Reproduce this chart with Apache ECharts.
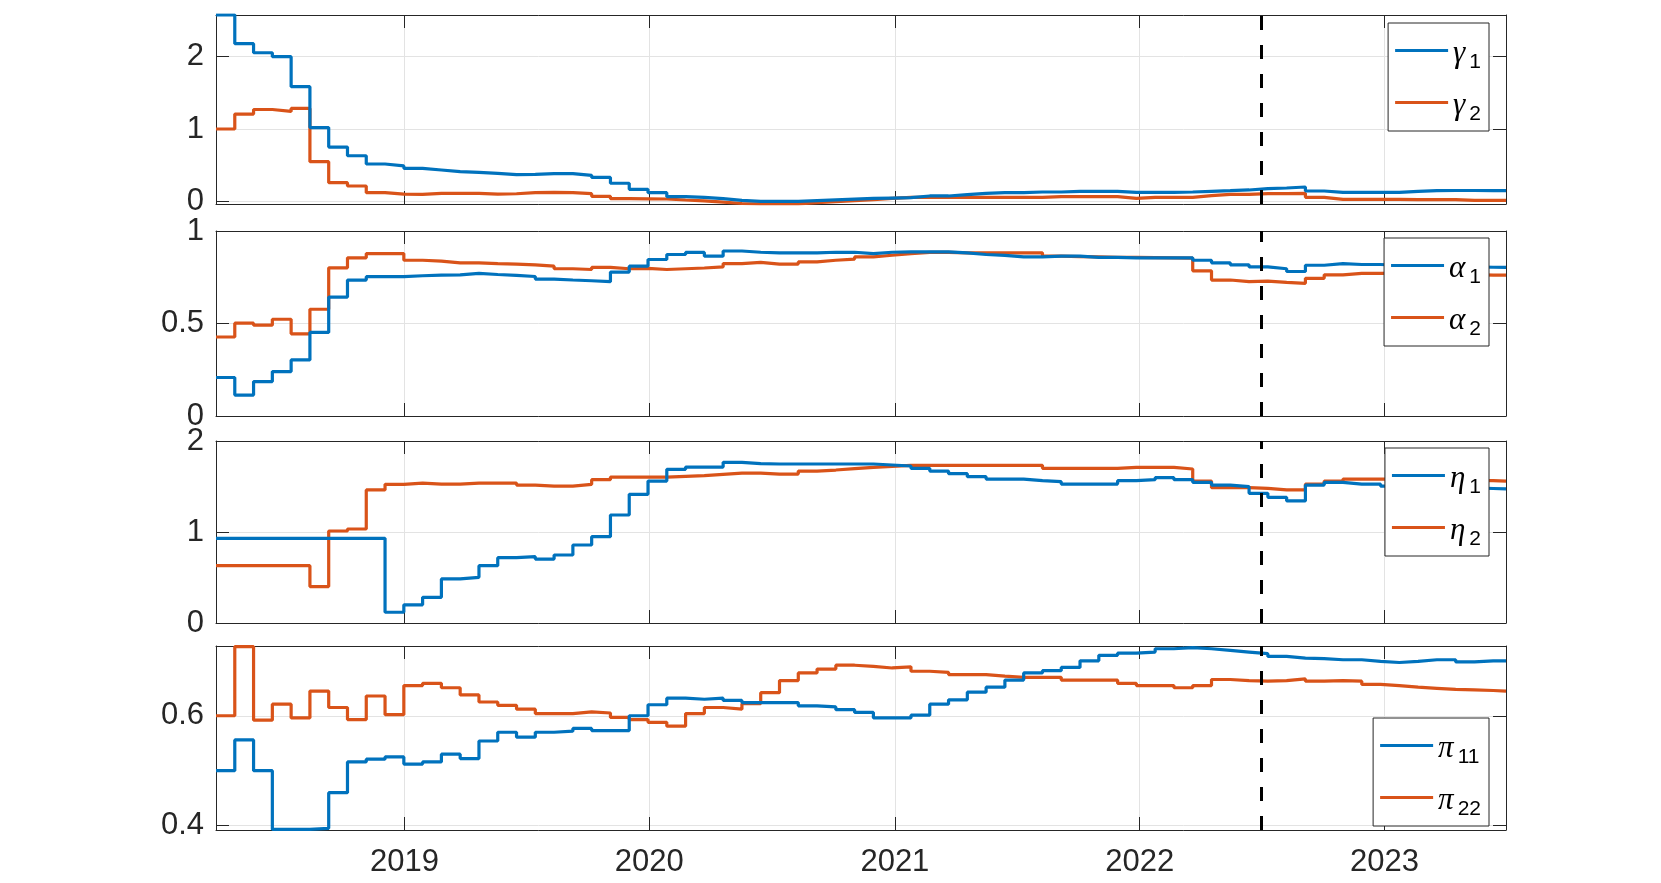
<!DOCTYPE html>
<html>
<head>
<meta charset="utf-8">
<script src="https://cdn.jsdelivr.net/npm/echarts@6/dist/echarts.min.js"></script>
<style>
html,body{margin:0;padding:0;background:#fff;}
#chart{width:1661px;height:883px;}
</style>
</head>
<body>
<div id="chart"></div>
<script>
// ---- time grid (4-weekly observations) ----
const startDate = [2018, 2, 26];   // 2018-03-26
const stepDays = 28;
const endDate = [2023, 6, 1];      // 2023-07-01
const breakDate = [2022, 6, 1];    // 2022-07-01 (dashed line)
const yearTicks = ['2019', '2020', '2021', '2022', '2023'];

// ---- series values (one per 4-week step) ----
const gamma1 = [2.58,2.18,2.055,2.0,1.585,1.02,0.75,0.63,0.516,0.49,0.456,0.433,0.41,0.40,0.387,0.37,0.373,0.382,0.382,0.36,
  0.33,0.25,0.166,0.12,0.065,0.055,0.037,0.014,0.0,0.0,0.0,0.01,0.02,0.03,0.04,0.045,0.05,0.074,0.074,0.092,
  0.11,0.12,0.12,0.129,0.129,0.138,0.138,0.138,0.125,0.125,0.125,0.129,0.138,0.147,0.157,0.175,0.184,0.198,0.143,0.124,
  0.124,0.124,0.124,0.138,0.147,0.15,0.15,0.147,0.147];
const gamma2 = [1.0,1.207,1.27,1.244,1.285,0.548,0.258,0.212,0.12,0.10,0.097,0.11,0.11,0.11,0.10,0.105,0.12,0.124,0.12,0.106,
  0.069,0.037,0.035,0.032,0.018,0.005,-0.01,-0.03,-0.035,-0.035,-0.035,-0.018,-0.005,0.009,0.023,0.041,0.055,0.055,0.055,0.055,
  0.055,0.055,0.055,0.055,0.065,0.065,0.065,0.065,0.04,0.055,0.055,0.055,0.078,0.097,0.097,0.106,0.106,0.11,0.055,0.028,
  0.028,0.028,0.028,0.023,0.023,0.023,0.014,0.014,0.014];
const alpha1 = [0.208,0.113,0.186,0.24,0.303,0.452,0.643,0.735,0.753,0.753,0.758,0.762,0.763,0.771,0.765,0.76,0.754,0.74,0.735,0.731,
  0.726,0.778,0.81,0.846,0.873,0.884,0.864,0.892,0.885,0.882,0.882,0.882,0.885,0.885,0.878,0.885,0.887,0.887,0.887,0.882,
  0.873,0.868,0.86,0.86,0.864,0.864,0.857,0.857,0.855,0.855,0.855,0.855,0.842,0.828,0.817,0.806,0.796,0.781,0.815,0.824,
  0.819,0.819,0.815,0.812,0.81,0.808,0.806,0.804,0.803];
const alpha2 = [0.427,0.502,0.491,0.523,0.444,0.577,0.801,0.855,0.878,0.878,0.842,0.837,0.828,0.828,0.824,0.821,0.817,0.81,0.796,0.792,
  0.803,0.796,0.798,0.792,0.796,0.8,0.806,0.824,0.83,0.821,0.821,0.833,0.842,0.848,0.86,0.869,0.878,0.884,0.884,0.882,
  0.882,0.882,0.882,0.882,0.864,0.862,0.86,0.858,0.857,0.856,0.855,0.853,0.785,0.735,0.726,0.729,0.722,0.717,0.744,0.763,
  0.771,0.771,0.772,0.772,0.768,0.766,0.764,0.762,0.762];
const eta1 = [0.93,0.93,0.93,0.93,0.93,0.93,0.93,0.93,0.93,0.118,0.2,0.282,0.484,0.502,0.63,0.718,0.729,0.703,0.747,0.857,
  0.949,1.187,1.414,1.56,1.689,1.714,1.714,1.766,1.751,1.747,1.747,1.747,1.747,1.747,1.747,1.736,1.725,1.70,1.67,1.641,
  1.608,1.582,1.582,1.564,1.553,1.527,1.527,1.527,1.564,1.575,1.597,1.575,1.546,1.516,1.498,1.425,1.381,1.341,1.516,1.546,
  1.527,1.527,1.505,1.5,1.495,1.49,1.485,1.478,1.473];
const eta2 = [0.63,0.63,0.63,0.63,0.63,0.4,1.011,1.033,1.462,1.524,1.538,1.527,1.527,1.538,1.538,1.538,1.516,1.505,1.505,1.524,
  1.575,1.604,1.604,1.604,1.612,1.619,1.634,1.648,1.648,1.637,1.637,1.67,1.681,1.696,1.711,1.722,1.733,1.733,1.733,1.733,
  1.733,1.733,1.733,1.733,1.7,1.7,1.7,1.7,1.711,1.711,1.711,1.692,1.56,1.487,1.487,1.48,1.462,1.462,1.527,1.56,
  1.582,1.582,1.582,1.58,1.575,1.572,1.568,1.565,1.56];
const pi11 = [0.5,0.556,0.50,0.393,0.393,0.395,0.46,0.516,0.521,0.525,0.512,0.516,0.53,0.522,0.554,0.57,0.561,0.57,0.572,0.577,
  0.573,0.573,0.6,0.62,0.632,0.63,0.632,0.628,0.624,0.624,0.624,0.618,0.616,0.611,0.606,0.596,0.596,0.601,0.621,0.629,
  0.643,0.652,0.665,0.678,0.682,0.688,0.7,0.71,0.714,0.716,0.722,0.724,0.722,0.719,0.716,0.713,0.708,0.705,0.704,0.702,
  0.702,0.699,0.697,0.699,0.702,0.702,0.698,0.7,0.7];
const pi22 = [0.6,0.726,0.592,0.621,0.596,0.645,0.615,0.593,0.636,0.602,0.655,0.659,0.651,0.638,0.625,0.619,0.612,0.604,0.604,0.607,
  0.605,0.597,0.593,0.588,0.581,0.604,0.615,0.612,0.622,0.642,0.664,0.678,0.685,0.692,0.69,0.687,0.689,0.681,0.679,0.675,
  0.675,0.672,0.67,0.67,0.67,0.665,0.665,0.665,0.659,0.655,0.655,0.651,0.655,0.666,0.664,0.663,0.664,0.667,0.663,0.664,
  0.663,0.657,0.655,0.652,0.65,0.648,0.647,0.646,0.645];

// ---- panel definitions ----
const panels = [
  {names:['γ1','γ2'], data:[gamma1,gamma2], ymin:-0.037, ymax:2.577, step:1,   top:15,  height:189, legendTop:23},
  {names:['α1','α2'], data:[alpha1,alpha2], ymin:0,      ymax:1,     step:0.5, top:231, height:185, legendTop:238},
  {names:['η1','η2'], data:[eta1,eta2],     ymin:0,      ymax:2,     step:1,   top:441, height:182, legendTop:448},
  {names:['π11','π22'], data:[pi11,pi22],   ymin:0.392,  ymax:0.727, step:0.2, top:646, height:184, legendTop:718}
];

const colors = ['#0072BD', '#D95319'];
const textColor = '#262626';
const gridColor = '#e3e3e3';

function localTs(arr, addDays) {
  return new Date(arr[0], arr[1], arr[2] + (addDays || 0)).getTime();
}
const xMin = localTs(startDate);
const xMax = localTs(endDate);
const xBreak = localTs(breakDate);

function buildSeriesData(vals) {
  const out = vals.map((v, k) => [localTs(startDate, k * stepDays), v]);
  out.push([xMax, vals[vals.length - 1]]);
  return out;
}

const grids = [], xAxes = [], yAxes = [], series = [], legends = [];
panels.forEach((p, i) => {
  grids.push({left: 216, right: 155, top: p.top, height: p.height});
  const isBottom = (i === panels.length - 1);
  const commonX = {
    type: 'time', gridIndex: i, min: xMin, max: xMax, splitNumber: 5,
    axisLine: {show: true, onZero: false, lineStyle: {color: textColor, width: 1}},
    axisTick: {show: true, inside: true, length: 13, lineStyle: {color: textColor, width: 1}},
    minorTick: {show: false}
  };
  xAxes.push(Object.assign({}, commonX, {
    position: 'bottom',
    splitLine: {show: true, lineStyle: {color: gridColor, width: 1}},
    axisLabel: {
      show: isBottom, color: textColor, fontSize: 31, fontFamily: 'Liberation Sans', margin: 17,
      formatter: function (val) {
        const y = String(new Date(val).getFullYear());
        return yearTicks.indexOf(y) >= 0 ? y : '';
      },
      showMinLabel: false, showMaxLabel: false
    }
  }));
  xAxes.push(Object.assign({}, commonX, {
    position: 'top', splitLine: {show: false}, axisLabel: {show: false}
  }));
  const commonY = {
    type: 'value', gridIndex: i, min: p.ymin, max: p.ymax,
    minInterval: p.step, maxInterval: p.step, splitNumber: 3,
    axisLine: {show: true, onZero: false, lineStyle: {color: textColor, width: 1}},
    axisTick: {show: true, inside: true, length: 13, lineStyle: {color: textColor, width: 1}}
  };
  yAxes.push(Object.assign({}, commonY, {
    position: 'left',
    splitLine: {show: true, lineStyle: {color: gridColor, width: 1}},
    axisLabel: {
      show: true, color: textColor, fontSize: 31, fontFamily: 'Liberation Sans', margin: 12,
      showMinLabel: p.ymin === 0, showMaxLabel: p.ymax === Math.round(p.ymax / p.step) * p.step,
      formatter: function (v) { return String(Math.round(v * 10) / 10); }
    }
  }));
  yAxes.push(Object.assign({}, commonY, {
    position: 'right', splitLine: {show: false}, axisLabel: {show: false}
  }));

  p.names.forEach((nm, j) => {
    const s = {
      name: nm, type: 'line', step: 'end',
      xAxisIndex: 2 * i, yAxisIndex: 2 * i,
      data: buildSeriesData(p.data[j]),
      showSymbol: false, symbol: 'none',
      color: colors[j],
      lineStyle: {color: colors[j], width: 3.2},
      itemStyle: {color: colors[j]},
      z: 3 - j,
      animation: false
    };
    if (j === 0) {
      s.markLine = {
        silent: true, symbol: ['none', 'none'], animation: false,
        label: {show: false},
        lineStyle: {color: '#000', type: [14, 15], width: 3},
        data: [{xAxis: xBreak}]
      };
    }
    series.push(s);
  });

  legends.push({
    data: p.names, orient: 'vertical', right: 172, top: p.legendTop,
    icon: 'rect', itemWidth: 53, itemHeight: 3.2, itemGap: 7,
    padding: [5, 8, 6, 7],
    borderColor: textColor, borderWidth: 1, backgroundColor: '#ffffff',
    selectedMode: false,
    formatter: function (name) {
      return '{g|' + name.charAt(0) + '}{s|' + name.slice(1) + '}';
    },
    textStyle: {
      color: '#000',
      rich: {
        g: {fontSize: 31, fontFamily: 'Liberation Serif', fontStyle: 'italic', color: '#000', lineHeight: 36, padding: [6, 0, 0, 0]},
        s: {fontSize: 21, fontFamily: 'Liberation Sans', color: '#000', lineHeight: 18, padding: [24, 0, 0, 4]}
      }
    }
  });
});

const chart = echarts.init(document.getElementById('chart'), null, {renderer: 'canvas'});
chart.setOption({
  animation: false,
  backgroundColor: '#ffffff',
  grid: grids,
  xAxis: xAxes,
  yAxis: yAxes,
  legend: legends,
  series: series
});
</script>
</body>
</html>
